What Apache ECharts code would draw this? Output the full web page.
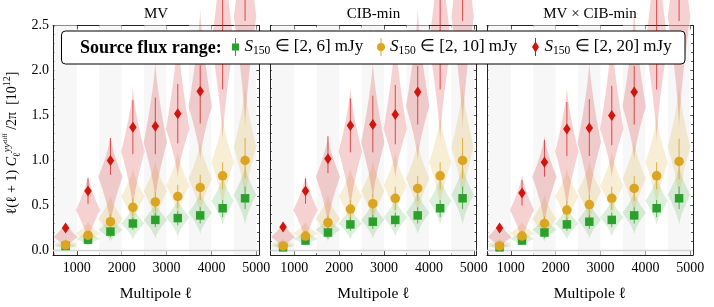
<!DOCTYPE html>
<html><head><meta charset="utf-8">
<script src="https://cdn.jsdelivr.net/npm/echarts@6/dist/echarts.min.js"></script>
<style>html,body{margin:0;padding:0;background:#fff}#c{width:714px;height:307px}</style>
</head><body><div id="c"></div>
<script>
// ---------------- data ----------------
const ells = [750, 1250, 1750, 2250, 2750, 3250, 3750, 4250, 4750];
const panelTitles = ['MV', 'CIB-min', 'MV \u00d7 CIB-min'];
const xTickValues = [1000, 2000, 3000, 4000, 5000];
const xMinorValues = [500, 1500, 2500, 3500, 4500];
const yTickValues = [0, 0.5, 1, 1.5, 2, 2.5];
const yMinorValues = [0.1,0.2,0.3,0.4,0.6,0.7,0.8,0.9,1.1,1.2,1.3,1.4,1.6,1.7,1.8,1.9,2.1,2.2,2.3,2.4];
const bandStarts = [500, 1500, 2500, 3500, 4500];
const bandEnds = [1000, 2000, 3000, 4000, 5000];
const zeroLevel = [0];
const seriesLabels = ['S150 \u2208 [2, 6] mJy', 'S150 \u2208 [2, 10] mJy', 'S150 \u2208 [2, 20] mJy'];
const legendRanges = ['[2, 6] mJy', '[2, 10] mJy', '[2, 20] mJy'];

// point values per panel
const mvGreen  = [0.05, 0.12, 0.21, 0.30, 0.34, 0.36, 0.39, 0.47, 0.58];
const mvOrange = [0.06, 0.17, 0.32, 0.48, 0.54, 0.60, 0.70, 0.83, 1.00];
const mvRed    = [0.25, 0.66, 1.00, 1.37, 1.38, 1.52, 1.77, 3.00, 3.50];
const cibGreen  = [0.035, 0.11, 0.20, 0.29, 0.32, 0.34, 0.39, 0.47, 0.58];
const cibOrange = [0.05, 0.16, 0.31, 0.46, 0.52, 0.58, 0.69, 0.83, 1.00];
const cibRed    = [0.26, 0.66, 1.02, 1.39, 1.40, 1.51, 1.76, 3.00, 3.50];
const mixGreen  = [0.035, 0.11, 0.20, 0.29, 0.32, 0.34, 0.39, 0.47, 0.58];
const mixOrange = [0.05, 0.16, 0.30, 0.45, 0.51, 0.58, 0.69, 0.83, 0.99];
const mixRed    = [0.25, 0.64, 0.98, 1.35, 1.36, 1.50, 1.76, 3.00, 3.50];

// error bars (down / up offsets)
const greenErrDown  = [0.015, 0.03, 0.06, 0.07, 0.08, 0.08, 0.09, 0.10, 0.12];
const greenErrUp    = [0.015, 0.03, 0.06, 0.07, 0.08, 0.08, 0.09, 0.09, 0.13];
const orangeErrDown = [0.02, 0.04, 0.08, 0.10, 0.11, 0.13, 0.14, 0.15, 0.20];
const orangeErrUp   = [0.02, 0.04, 0.08, 0.10, 0.11, 0.13, 0.14, 0.15, 0.25];
const redErrDown    = [0.05, 0.14, 0.16, 0.30, 0.31, 0.33, 0.36, 1.21, 0.95];
const redErrUp      = [0.05, 0.14, 0.25, 0.30, 0.32, 0.33, 0.29, 0.80, 0.80];

// violin extents: low tail, widest point, high tail
const greenVioLo   = [0.01, 0.05, 0.10, 0.12, 0.13, 0.15, 0.18, 0.28, 0.28];
const greenVioMode = [0.05, 0.13, 0.23, 0.30, 0.34, 0.37, 0.42, 0.55, 0.62];
const greenVioHi   = [0.09, 0.23, 0.38, 0.50, 0.55, 0.58, 0.66, 0.83, 0.95];
const orangeVioLo   = [0.02, 0.06, 0.12, 0.28, 0.30, 0.38, 0.40, 0.48, 0.55];
const orangeVioMode = [0.07, 0.19, 0.35, 0.60, 0.66, 0.72, 0.80, 0.98, 1.15];
const orangeVioHi   = [0.13, 0.32, 0.62, 0.92, 1.00, 1.10, 1.22, 1.50, 1.85];
const redVioLo   = [0.02, 0.08, 0.28, 0.45, 0.55, 0.80, 1.00, 1.20, 1.35];
const redVioMode = [0.15, 0.45, 0.82, 1.10, 1.20, 1.35, 1.60, 2.30, 2.60];
const redVioHi   = [0.32, 0.85, 1.28, 1.82, 2.12, 2.43, 2.70, 3.60, 4.00];
const vioHalfWidth = [270, 270, 270, 260, 260, 260, 260, 250, 250];

// ---------------- styling / layout ----------------
const FONT = 'Liberation Serif';
const gridLefts = [53, 270.5, 487];
const GRID_TOP = 25.5, GRID_W = 206, GRID_H = 236;
const X_MIN = 470, X_MAX = 5060, Y_MIN = -0.05, Y_MAX = 2.5;
const markerColors = ['#2ca02c', '#daa520', '#d0150f'];
const vioColors = ['rgba(44,160,44,0.17)', 'rgba(218,165,32,0.19)', 'rgba(214,39,40,0.21)'];
const errColors = ['rgba(44,160,44,0.8)', 'rgba(218,165,32,0.85)', 'rgba(214,39,40,0.8)'];
const markerSymbols = ['rect', 'circle', 'diamond'];
const markerSizes = [8.5, 9.5, [7.5, 11]];
const AXC = '#222';

const panelValues = [[mvGreen, mvOrange, mvRed], [cibGreen, cibOrange, cibRed], [mixGreen, mixOrange, mixRed]];
const errDown = [greenErrDown, orangeErrDown, redErrDown];
const errUp = [greenErrUp, orangeErrUp, redErrUp];
const vioLo = [greenVioLo, orangeVioLo, redVioLo];
const vioMode = [greenVioMode, orangeVioMode, redVioMode];
const vioHi = [greenVioHi, orangeVioHi, redVioHi];

function profile(y, lo, mode, hi) {
  let u = y < mode ? (mode - y) / (mode - lo) : (y - mode) / (hi - mode);
  u = Math.min(1, Math.max(0, u));
  return Math.pow(1 - u, 1.4);
}
function makeViolinRender(color) {
  return function (params, api) {
    const x = api.value(0), lo = api.value(1), mode = api.value(2), hi = api.value(3), hw = api.value(4);
    const ys = [];
    const N = 20;
    for (let i = 0; i <= N; i++) ys.push(lo + (mode - lo) * i / N);
    for (let i = 1; i <= N; i++) ys.push(mode + (hi - mode) * i / N);
    const pts = [];
    ys.forEach(y => pts.push(api.coord([x + hw * profile(y, lo, mode, hi), y])));
    for (let i = ys.length - 1; i >= 0; i--) {
      const y = ys[i];
      pts.push(api.coord([x - hw * profile(y, lo, mode, hi), y]));
    }
    return { type: 'polygon', shape: { points: pts, smooth: 0.2 }, style: { fill: color, stroke: null } };
  };
}
function makeErrRender(color) {
  return function (params, api) {
    const a = api.coord([api.value(0), api.value(1)]);
    const b = api.coord([api.value(0), api.value(2)]);
    return { type: 'line', shape: { x1: a[0], y1: a[1], x2: b[0], y2: b[1] }, style: { stroke: color, lineWidth: 1 } };
  };
}
function bandRender(params, api) {
  const cs = params.coordSys;
  const a = api.coord([api.value(0), 0]);
  const b = api.coord([api.value(1), 0]);
  return { type: 'rect', shape: { x: a[0], y: cs.y, width: b[0] - a[0], height: cs.height }, style: { fill: '#f7f7f7' } };
}
function zeroRender(params, api) {
  const cs = params.coordSys;
  const p = api.coord([api.value(0), api.value(1)]);
  return { type: 'line', shape: { x1: cs.x, y1: p[1], x2: cs.x + cs.width, y2: p[1] }, style: { stroke: '#d4d4d4', lineWidth: 1.3 } };
}

const grids = [], xAxes = [], yAxes = [], series = [], graphics = [];
const tickLine = { color: AXC, width: 0.8 };
for (let g = 0; g < 3; g++) {
  grids.push({ left: gridLefts[g], top: GRID_TOP, width: GRID_W, height: GRID_H, containLabel: false });
  const xb = { type: 'value', gridIndex: g, min: X_MIN, max: X_MAX, splitLine: { show: false } };
  xAxes.push(Object.assign({}, xb, {
    position: 'bottom',
    axisLine: { show: true, onZero: false, lineStyle: { color: AXC, width: 1 } },
    axisTick: { show: true, inside: true, length: 4, customValues: xTickValues, lineStyle: tickLine },
    axisLabel: { show: true, customValues: xTickValues, margin: 6, color: '#000', fontFamily: FONT, fontSize: 14,
      formatter: v => String(Math.round(v)) },
    name: 'Multipole \u2113', nameLocation: 'middle', nameGap: 31,
    nameTextStyle: { color: '#000', fontFamily: FONT, fontSize: 15.5 }
  }));
  xAxes.push(Object.assign({}, xb, {
    position: 'bottom', axisLine: { show: false, onZero: false },
    axisTick: { show: true, inside: true, length: 2, customValues: xMinorValues, lineStyle: tickLine },
    axisLabel: { show: false }
  }));
  xAxes.push(Object.assign({}, xb, {
    position: 'top', axisLine: { show: true, onZero: false, lineStyle: { color: AXC, width: 1 } },
    axisTick: { show: true, inside: true, length: 4, customValues: xTickValues, lineStyle: tickLine },
    axisLabel: { show: false }
  }));
  xAxes.push(Object.assign({}, xb, {
    position: 'top', axisLine: { show: false, onZero: false },
    axisTick: { show: true, inside: true, length: 2, customValues: xMinorValues, lineStyle: tickLine },
    axisLabel: { show: false }
  }));
  const yb = { type: 'value', gridIndex: g, min: Y_MIN, max: Y_MAX, splitLine: { show: false } };
  yAxes.push(Object.assign({}, yb, {
    position: 'left',
    axisLine: { show: true, onZero: false, lineStyle: { color: AXC, width: 1 } },
    axisTick: { show: true, inside: true, length: 4, customValues: yTickValues, lineStyle: tickLine },
    axisLabel: { show: g === 0, customValues: yTickValues, margin: 4, color: '#000', fontFamily: FONT, fontSize: 14,
      formatter: v => Number(v).toFixed(1) }
  }));
  yAxes.push(Object.assign({}, yb, {
    position: 'left', axisLine: { show: false, onZero: false },
    axisTick: { show: true, inside: true, length: 2, customValues: yMinorValues, lineStyle: tickLine },
    axisLabel: { show: false }
  }));
  yAxes.push(Object.assign({}, yb, {
    position: 'right', axisLine: { show: true, onZero: false, lineStyle: { color: AXC, width: 1 } },
    axisTick: { show: true, inside: true, length: 4, customValues: yTickValues, lineStyle: tickLine },
    axisLabel: { show: false }
  }));
  yAxes.push(Object.assign({}, yb, {
    position: 'right', axisLine: { show: false, onZero: false },
    axisTick: { show: true, inside: true, length: 2, customValues: yMinorValues, lineStyle: tickLine },
    axisLabel: { show: false }
  }));

  const xi = 4 * g, yi = 4 * g;
  series.push({
    type: 'custom', name: 'bands' + g, xAxisIndex: xi, yAxisIndex: yi, silent: true, z: 1,
    data: bandStarts.map((s, i) => [s, bandEnds[i]]), encode: { x: [0, 1] }, renderItem: bandRender
  });
  series.push({
    type: 'custom', name: 'zero' + g, xAxisIndex: xi, yAxisIndex: yi, silent: true, z: 1,
    data: zeroLevel.map(v => [ells[0], v]), encode: { x: 0, y: 1 }, renderItem: zeroRender
  });
  for (let k = 0; k < 3; k++) {
    series.push({
      type: 'custom', name: 'violin' + g + k, xAxisIndex: xi, yAxisIndex: yi, silent: true, clip: false, z: 2,
      data: ells.map((x, i) => [x, vioLo[k][i], vioMode[k][i], vioHi[k][i], vioHalfWidth[i]]),
      encode: { x: 0, y: [1, 3] }, renderItem: makeViolinRender(vioColors[k])
    });
  }
  for (let k = 0; k < 3; k++) {
    const vals = panelValues[g][k];
    series.push({
      type: 'custom', name: 'err' + g + k, xAxisIndex: xi, yAxisIndex: yi, silent: true, clip: false, z: 3,
      data: ells.map((x, i) => [x, vals[i] - errDown[k][i], vals[i] + errUp[k][i]]),
      encode: { x: 0, y: [1, 2] }, renderItem: makeErrRender(errColors[k])
    });
  }
  for (let k = 0; k < 3; k++) {
    const vals = panelValues[g][k];
    series.push({
      type: 'scatter', name: seriesLabels[k], xAxisIndex: xi, yAxisIndex: yi, z: 4,
      symbol: markerSymbols[k], symbolSize: markerSizes[k],
      itemStyle: { color: markerColors[k], opacity: 1 },
      data: ells.map((x, i) => [x, vals[i]])
    });
  }
  graphics.push({
    type: 'text', x: gridLefts[g] + GRID_W / 2, y: 14, z: 10,
    style: { text: panelTitles[g], fontFamily: FONT, fontSize: 15, fill: '#000', align: 'center', verticalAlign: 'middle' }
  });
}

// y-axis title
graphics.push({
  type: 'text', x: 12, y: 143, rotation: Math.PI / 2, z: 10,
  style: {
    text: '{n|\u2113(\u2113 + 1) }{c|C}{sub|\u2113}{sup|yy}{dd|diff}{n| /2\u03c0  [10}{sup2|12}{n|]}',
    align: 'center', verticalAlign: 'middle', fill: '#000',
    rich: {
      n: { fontFamily: FONT, fontSize: 14, lineHeight: 20, fill: '#000' },
      c: { fontFamily: FONT, fontSize: 14, fontStyle: 'italic', lineHeight: 20, fill: '#000' },
      sub: { fontFamily: FONT, fontSize: 10, lineHeight: 10, verticalAlign: 'bottom', fill: '#000' },
      sup: { fontFamily: FONT, fontSize: 10, fontStyle: 'italic', lineHeight: 10, verticalAlign: 'top', fill: '#000' },
      dd: { fontFamily: FONT, fontSize: 7, lineHeight: 13, verticalAlign: 'top', fill: '#000' },
      sup2: { fontFamily: FONT, fontSize: 10, lineHeight: 10, verticalAlign: 'top', fill: '#000' }
    }
  }
});
// legend frame and heading
graphics.push({
  type: 'rect', z: 50, shape: { x: 61.5, y: 31, width: 623.5, height: 33, r: 4 },
  style: { fill: '#fff', stroke: '#000', lineWidth: 1 }
});
graphics.push({
  type: 'text', x: 80, y: 48, z: 51,
  style: { text: 'Source flux range:', fontFamily: FONT, fontSize: 18, fontWeight: 'bold', fill: '#000', align: 'left', verticalAlign: 'middle' }
});

const legendIcons = [
  'path://M3.5,0H4.5V18H3.5Z M0.5,5.5H7.5V12.5H0.5Z',
  'path://M3.5,0H4.5V18H3.5Z M0,9A4,4,0,1,1,8,9A4,4,0,1,1,0,9Z',
  'path://M3.5,0H4.5V18H3.5Z M4,3.5L7.5,9L4,14.5L0.5,9Z'
];
const legendLefts = [232, 377, 532];
const legends = seriesLabels.map((name, k) => ({
  show: true, left: legendLefts[k], top: 38, padding: 0, itemWidth: 8, itemHeight: 18, itemGap: 0,
  selectedMode: false, z: 60,
  data: [{ name: name, icon: legendIcons[k], itemStyle: { color: markerColors[k] } }],
  formatter: () => '{i|S}{s|150}{t| \u2208 ' + legendRanges[k] + '}',
  textStyle: {
    color: '#000', fontFamily: FONT, fontSize: 17,
    rich: {
      i: { fontFamily: FONT, fontSize: 17, fontStyle: 'italic', lineHeight: 20 },
      s: { fontFamily: FONT, fontSize: 11.5, lineHeight: 12, verticalAlign: 'bottom' },
      t: { fontFamily: FONT, fontSize: 17, lineHeight: 20 }
    }
  }
}));

const chart = echarts.init(document.getElementById('c'), null, { renderer: 'canvas' });
chart.setOption({
  animation: false,
  backgroundColor: '#fff',
  grid: grids, xAxis: xAxes, yAxis: yAxes,
  legend: legends,
  series: series,
  graphic: { elements: graphics }
});
</script></body></html>
